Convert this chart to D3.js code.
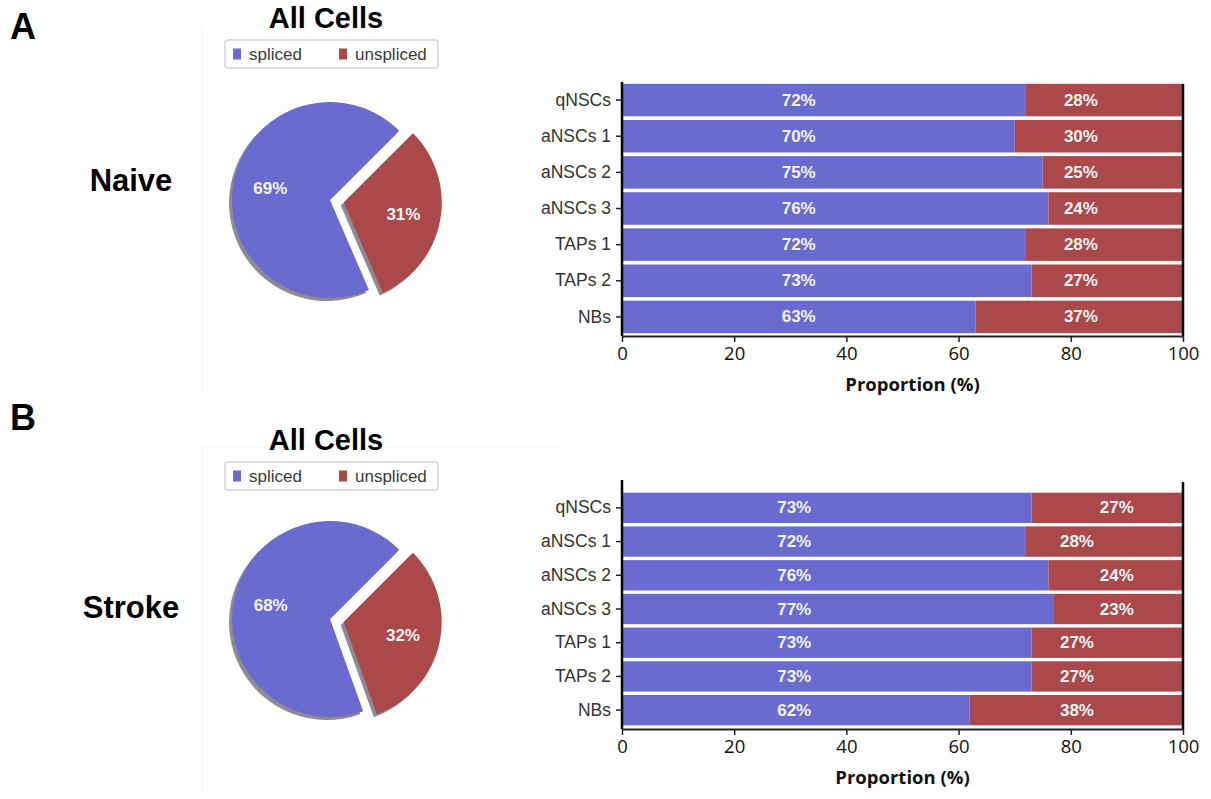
<!DOCTYPE html>
<html>
<head>
<meta charset="utf-8">
<script src="https://cdn.jsdelivr.net/npm/d3@7"></script>
<style>
  html, body { margin: 0; padding: 0; background: #fff; }
  svg { display: block; }
</style>
</head>
<body>
<svg id="fig" width="1211" height="799"></svg>
<script>
// ---- data ----
const cellTypes = ["qNSCs", "aNSCs 1", "aNSCs 2", "aNSCs 3", "TAPs 1", "TAPs 2", "NBs"];
const naiveSpliced   = [72, 70, 75, 76, 72, 73, 63];
const naiveUnspliced = [28, 30, 25, 24, 28, 27, 37];
const strokeSpliced   = [73, 72, 76, 77, 73, 73, 62];
const strokeUnspliced = [27, 28, 24, 23, 27, 27, 38];
const pieKeys = ["spliced", "unspliced"];
const naivePie  = [69, 31];
const strokePie = [68, 32];
const xTicks = [0, 20, 40, 60, 80, 100];
const panelLetters = ["A", "B"];
const conditions = ["Naive", "Stroke"];

// ---- style ----
const colors = { spliced: "#6a6bd0", unspliced: "#ab4849" };
const shadowColor = "#8e8c93";
const sans = "'Liberation Sans', Arial, Helvetica, sans-serif";
const calib = "'Open Sans', 'Liberation Sans', sans-serif";

const svg = d3.select("#fig");

// per-panel layout
const panels = [
  {
    letter: panelLetters[0], condition: conditions[0],
    pie: naivePie, spliced: naiveSpliced, unspliced: naiveUnspliced,
    letterY: 39, titleY: 28, legendY: 40, condY: 180,
    pieC: [330, 200],
    bandRange: [82, 335], spineTop: 82, axisY: 336,
    splicedLabelAt: cellTypes.map(() => 31.5),
    unsplicedLabelAt: cellTypes.map(() => 81.8),
    xLabelDx: 10
  },
  {
    letter: panelLetters[1], condition: conditions[1],
    pie: strokePie, spliced: strokeSpliced, unspliced: strokeUnspliced,
    letterY: 430, titleY: 450, legendY: 462, condY: 607,
    pieC: [330, 619],
    bandRange: [491, 727], spineTop: 480, axisY: 729,
    splicedLabelAt: cellTypes.map(() => 30.7),
    unsplicedLabelAt: [88.2, 81.1, 88.2, 88.2, 81.1, 81.1, 81.1],
    xLabelDx: 0
  }
];

// faint frame edges around the pie panels
svg.append("line").attr("x1", 202).attr("x2", 202).attr("y1", 25).attr("y2", 393)
  .attr("stroke", "#f2f2f2").attr("stroke-width", 1);
svg.append("line").attr("x1", 202).attr("x2", 202).attr("y1", 447).attr("y2", 792)
  .attr("stroke", "#f2f2f2").attr("stroke-width", 1);
svg.append("line").attr("x1", 202).attr("x2", 560).attr("y1", 447).attr("y2", 447)
  .attr("stroke", "#f2f2f2").attr("stroke-width", 1);

const x = d3.scaleLinear().domain([0, 100]).range([622, 1183]);

panels.forEach(p => {
  // panel letter
  svg.append("text").attr("x", 10).attr("y", p.letterY)
    .attr("font-family", sans).attr("font-weight", "bold").attr("font-size", 36)
    .attr("fill", "#000").text(p.letter);

  // condition name
  svg.append("text").attr("x", 131).attr("y", p.condY)
    .attr("text-anchor", "middle").attr("dominant-baseline", "central")
    .attr("font-family", sans).attr("font-weight", "bold").attr("font-size", 31)
    .attr("fill", "#000").text(p.condition);

  // pie title
  svg.append("text").attr("x", 326).attr("y", p.titleY)
    .attr("text-anchor", "middle")
    .attr("font-family", sans).attr("font-weight", "bold").attr("font-size", 29)
    .attr("fill", "#000").text("All Cells");

  // legend
  const lg = svg.append("g").attr("transform", `translate(225,${p.legendY})`);
  lg.append("rect").attr("x", 0).attr("y", 0).attr("width", 213).attr("height", 28)
    .attr("rx", 3).attr("fill", "#fff").attr("stroke", "#d4d4d4").attr("stroke-width", 1.5);
  const legendX = { spliced: [8, 24], unspliced: [114, 130] };
  pieKeys.forEach(k => {
    lg.append("rect").attr("x", legendX[k][0]).attr("y", 8.5).attr("width", 8).attr("height", 11)
      .attr("fill", colors[k]);
    lg.append("text").attr("x", legendX[k][1]).attr("y", 14.5)
      .attr("dominant-baseline", "central")
      .attr("font-family", sans).attr("font-size", 17).attr("fill", "#3a3a3a").text(k);
  });

  // pie: unspliced wedge starts at 45deg clockwise from north and is pulled out
  const r = 98;
  const pieData = [
    { key: pieKeys[1], value: p.pie[1], explode: 14 },
    { key: pieKeys[0], value: p.pie[0], explode: 0 }
  ];
  const pieGen = d3.pie().sort(null).value(d => d.value)
    .startAngle(Math.PI / 4).endAngle(Math.PI / 4 + 2 * Math.PI);
  const arcs = pieGen(pieData);
  const arc = d3.arc().innerRadius(0).outerRadius(r);
  const pg = svg.append("g").attr("transform", `translate(${p.pieC[0]},${p.pieC[1]})`);
  const off = a => {
    const mid = (a.startAngle + a.endAngle) / 2;
    return [Math.sin(mid) * a.data.explode, -Math.cos(mid) * a.data.explode, mid];
  };
  // shadows
  pg.selectAll("path.shadow").data(arcs).join("path").attr("class", "shadow")
    .attr("transform", a => { const o = off(a); return `translate(${o[0] - 3},${o[1] + 3})`; })
    .attr("d", arc).attr("fill", shadowColor);
  // wedges
  pg.selectAll("path.wedge").data(arcs).join("path").attr("class", "wedge")
    .attr("transform", a => { const o = off(a); return `translate(${o[0]},${o[1]})`; })
    .attr("d", arc).attr("fill", a => colors[a.data.key]);
  // percentage labels
  pg.selectAll("text.pct").data(arcs).join("text").attr("class", "pct")
    .attr("x", a => { const o = off(a); return o[0] + Math.sin(o[2]) * r * 0.62; })
    .attr("y", a => { const o = off(a); return o[1] - Math.cos(o[2]) * r * 0.62; })
    .attr("text-anchor", "middle").attr("dominant-baseline", "central")
    .attr("font-family", sans).attr("font-weight", "bold").attr("font-size", 17)
    .attr("fill", "#f4f4f8").text(a => a.data.value + "%");

  // stacked horizontal bars
  const y = d3.scaleBand().domain(cellTypes).range(p.bandRange)
    .paddingInner(0.1).paddingOuter(0.05);
  const rows = cellTypes.map((c, i) => ({
    cell: c, spliced: p.spliced[i], unspliced: p.unspliced[i],
    sAt: p.splicedLabelAt[i], uAt: p.unsplicedLabelAt[i]
  }));
  const stack = d3.stack().keys(pieKeys)(rows);
  const bg = svg.append("g");
  stack.forEach(layer => {
    bg.selectAll(null).data(layer).join("rect")
      .attr("x", d => x(d[0]))
      .attr("width", d => x(d[1]) - x(d[0]))
      .attr("y", d => y(d.data.cell))
      .attr("height", y.bandwidth())
      .attr("fill", colors[layer.key]);
  });
  // value labels inside bars
  bg.selectAll(null).data(rows).join("text")
    .attr("x", d => x(d.sAt)).attr("y", d => y(d.cell) + y.bandwidth() / 2)
    .attr("text-anchor", "middle").attr("dominant-baseline", "central")
    .attr("font-family", sans).attr("font-weight", "bold").attr("font-size", 17)
    .attr("fill", "#f4f4f8").text(d => d.spliced + "%");
  bg.selectAll(null).data(rows).join("text")
    .attr("x", d => x(d.uAt)).attr("y", d => y(d.cell) + y.bandwidth() / 2)
    .attr("text-anchor", "middle").attr("dominant-baseline", "central")
    .attr("font-family", sans).attr("font-weight", "bold").attr("font-size", 17)
    .attr("fill", "#f4f4f8").text(d => d.unspliced + "%");

  // y axis (left)
  const yAxis = svg.append("g").attr("transform", `translate(${x(0)},0)`)
    .call(d3.axisLeft(y).tickSize(6).tickPadding(5));
  yAxis.select(".domain").remove();
  yAxis.selectAll(".tick line").attr("stroke", "#222").attr("stroke-width", 1.5);
  yAxis.selectAll(".tick text").attr("font-family", sans).attr("font-size", 17.5)
    .attr("fill", "#333");

  // spines
  svg.append("line").attr("x1", x(0)).attr("x2", x(0)).attr("y1", p.spineTop).attr("y2", p.axisY)
    .attr("stroke", "#000").attr("stroke-width", 2.5);
  svg.append("line").attr("x1", x(100)).attr("x2", x(100)).attr("y1", p.spineTop + 2).attr("y2", p.axisY)
    .attr("stroke", "#000").attr("stroke-width", 2.5);

  // x axis
  const xAxis = svg.append("g").attr("transform", `translate(0,${p.axisY})`)
    .call(d3.axisBottom(x).tickValues(xTicks).tickSize(6).tickPadding(5).tickSizeOuter(0));
  xAxis.select(".domain").attr("stroke", "#222").attr("stroke-width", 2);
  xAxis.selectAll(".tick line").attr("stroke", "#222").attr("stroke-width", 1.5);
  xAxis.selectAll(".tick text").attr("font-family", calib).attr("font-size", 18.5)
    .attr("fill", "#111");

  svg.append("text").attr("x", (x(0) + x(100)) / 2 + p.xLabelDx).attr("y", p.axisY + 47)
    .attr("text-anchor", "middle").attr("dominant-baseline", "central")
    .attr("font-family", calib).attr("font-weight", "bold").attr("font-size", 18.5)
    .attr("fill", "#111").text("Proportion (%)");
});
</script>
</body>
</html>
